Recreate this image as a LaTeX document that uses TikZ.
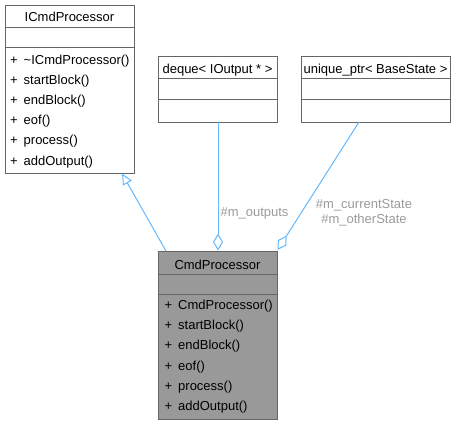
\documentclass[tikz,border=0pt]{standalone}
\usepackage{fontspec}
\setmainfont{Liberation Sans}
\usetikzlibrary{arrows.meta}
\definecolor{edgec}{HTML}{63B8FF}
\definecolor{lblc}{HTML}{9A9A9A}
\definecolor{bordc}{HTML}{666666}
\definecolor{hlc}{HTML}{999999}
\newcommand{\pub}{\makebox[13.5pt][l]{+}}
\begin{document}
\begin{tikzpicture}[x=1pt,y=-1pt,
  font=\fontsize{13}{15}\selectfont,
  classbox/.style={draw=bordc, line width=1pt, fill=white, inner sep=0pt, anchor=north west},
  sepline/.style={draw=bordc, line width=1pt},
  title/.style={anchor=center, inner sep=0pt, text=black},
  member/.style={anchor=west, inner sep=0pt, text=black},
  conn/.style={draw=edgec, line width=1pt},
  edgelabel/.style={text=lblc, inner sep=0pt, anchor=center}]
\useasboundingbox (0,0) rectangle (460,425);

% ICmdProcessor
\node[classbox, minimum width=129pt, minimum height=168pt] (icmd) at (5,5) {};
\draw[sepline] (5,28) -- (134,28);
\draw[sepline] (5,48) -- (134,48);
\node[title] (icmdT) at (69.5,17) {ICmdProcessor};
\node[member] (i1) at (10,61) {\pub\textasciitilde ICmdProcessor()};
\node[member] (i2) at (10,81) {\pub startBlock()};
\node[member] (i3) at (10,101) {\pub endBlock()};
\node[member] (i4) at (10,121.5) {\pub eof()};
\node[member] (i5) at (10,141.5) {\pub process()};
\node[member] (i6) at (10,162) {\pub addOutput()};

% deque
\node[classbox, minimum width=119pt, minimum height=66pt] (deq) at (158,56) {};
\draw[sepline] (158,79) -- (277,79);
\draw[sepline] (158,100) -- (277,100);
\node[title] (deqT) at (217.5,70) {deque< IOutput * >};

% unique_ptr
\node[classbox, minimum width=149pt, minimum height=66pt] (uptr) at (301,56) {};
\draw[sepline] (301,79) -- (450,79);
\draw[sepline] (301,100) -- (450,100);
\node[title] (uptrT) at (375.5,70) {unique\_ptr< BaseState >};

% CmdProcessor
\node[classbox, fill=hlc, minimum width=119pt, minimum height=168pt] (cmd) at (158,251) {};
\draw[sepline] (158,274) -- (277,274);
\draw[sepline] (158,294) -- (277,294);
\node[title] (cmdT) at (217.5,265) {CmdProcessor};
\node[member] (c1) at (164.5,306) {\pub CmdProcessor()};
\node[member] (c2) at (164.5,326) {\pub startBlock()};
\node[member] (c3) at (164.5,346.5) {\pub endBlock()};
\node[member] (c4) at (164.5,367) {\pub eof()};
\node[member] (c5) at (164.5,387) {\pub process()};
\node[member] (c6) at (164.5,407.5) {\pub addOutput()};

% connector endpoints
\coordinate (inhS) at (166,251);
\coordinate (inhT) at (122,173.5);
\coordinate (outS) at (218,122);
\coordinate (outT) at (218,250.5);
\coordinate (stS) at (359,122);
\coordinate (stT) at (277.5,250);

\draw[conn, -{Triangle[open, length=11pt, width=10pt]}] (inhS) -- (inhT);
\draw[conn, -{Diamond[open, length=17pt, width=10pt]}] (outS) -- (outT);
\draw[conn, -{Diamond[open, length=17pt, width=10pt]}] (stS) -- (stT);

\node[edgelabel] (lOut) at (254.5,213) {\#m\_outputs};
\node[edgelabel] (lCur) at (364,205) {\#m\_currentState};
\node[edgelabel] (lOth) at (364,220) {\#m\_otherState};
\end{tikzpicture}
\end{document}
